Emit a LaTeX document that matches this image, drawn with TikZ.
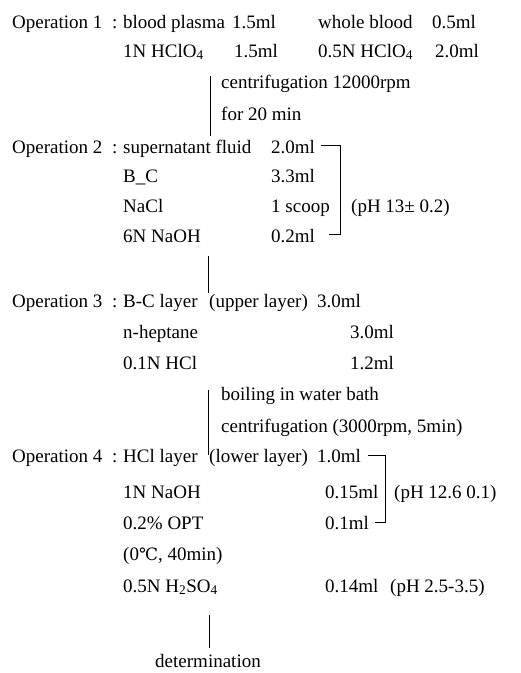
\documentclass[tikz,border=0pt]{standalone}
\usepackage{fontspec}
\setmainfont{Liberation Serif}
\newfontfamily\symfont{DejaVu Serif}
\begin{document}
\begin{tikzpicture}[x=1pt,y=-1pt,
  txt/.style={anchor=base west,inner sep=0pt,font=\fontsize{19}{22}\selectfont},
  ctxt/.style={anchor=base,inner sep=0pt,font=\fontsize{19}{22}\selectfont},
  rule/.style={line width=0.8pt,black}]
\useasboundingbox (0,0) rectangle (521,673);
% rows (baselines)
\def\ra{28}\def\rb{57}\def\rc{88}\def\rd{120}\def\re{153}
\def\rf{182}\def\rg{212}\def\rh{242}
\def\ri{307}\def\rj{338}\def\rk{369}\def\rl{400}\def\rm{432}
\def\rn{462}\def\ro{498}\def\rp{529}\def\rq{560}\def\rr{592}\def\rs{667}
% Operation 1
\node[txt] (op1) at (12,\ra) {Operation 1};
\node[txt] (c1) at (112,\ra) {:};
\node[txt] (bp) at (123,\ra) {blood plasma};
\node[txt] (bpv) at (232,\ra) {1.5ml};
\node[txt] (wb) at (318,\ra) {whole blood};
\node[txt] (wbv) at (432,\ra) {0.5ml};
\node[txt] (hc1) at (123,\rb) {1N HClO\textsubscript{4}};
\node[txt] (hc1v) at (234,\rb) {1.5ml};
\node[txt] (hc2) at (318,\rb) {0.5N HClO\textsubscript{4}};
\node[txt] (hc2v) at (435,\rb) {2.0ml};
\node[txt] (cf1) at (221,\rc) {centrifugation 12000rpm};
\node[txt] (cf2) at (221,\rd) {for 20 min};
\coordinate (l1a) at (210,76);
\coordinate (l1b) at (210,136);
\draw[rule] (l1a) -- (l1b);
% Operation 2
\node[txt] (op2) at (12,\re) {Operation 2};
\node[txt] (c2) at (112,\re) {:};
\node[txt] (sf) at (123,\re) {supernatant fluid};
\node[txt] (sfv) at (271,\re) {2.0ml};
\node[txt] (bc) at (123,\rf) {B\_C};
\node[txt] (bcv) at (271,\rf) {3.3ml};
\node[txt] (nacl) at (123,\rg) {NaCl};
\node[txt] (naclv) at (271,\rg) {1 scoop};
\node[txt] (naoh) at (123,\rh) {6N NaOH};
\node[txt] (naohv) at (271,\rh) {0.2ml};
\node[txt] (ph1) at (351,\rg) {(pH 13± 0.2)};
\coordinate (b1a) at (321,\re-8);
\coordinate (b1b) at (340,\re-8);
\coordinate (b1c) at (340,\rh-8);
\coordinate (b1d) at (329,\rh-8);
\draw[rule] (b1a) -- (b1b) -- (b1c) -- (b1d);
\coordinate (l2a) at (208,256);
\coordinate (l2b) at (208,293);
\draw[rule] (l2a) -- (l2b);
% Operation 3
\node[txt] (op3) at (12,\ri) {Operation 3};
\node[txt] (c3) at (112,\ri) {:};
\node[txt] (bcl) at (123,\ri) {B-C layer};
\node[txt] (ul) at (209,\ri) {(upper layer)};
\node[txt] (bclv) at (317,\ri) {3.0ml};
\node[txt] (hep) at (123,\rj) {n-heptane};
\node[txt] (hepv) at (350,\rj) {3.0ml};
\node[txt] (hcl) at (123,\rk) {0.1N HCl};
\node[txt] (hclv) at (350,\rk) {1.2ml};
\node[txt] (boil) at (221,\rl) {boiling in water bath};
\node[txt] (cf3) at (221,\rm) {centrifugation (3000rpm, 5min)};
\coordinate (l3a) at (208,390);
\coordinate (l3b) at (208,455);
\draw[rule] (l3a) -- (l3b);
% Operation 4
\node[txt] (op4) at (12,\rn) {Operation 4};
\node[txt] (c4) at (112,\rn) {:};
\node[txt] (hl) at (123,\rn) {HCl layer};
\node[txt] (ll) at (209,\rn) {(lower layer)};
\node[txt] (hlv) at (317,\rn) {1.0ml};
\node[txt] (nh) at (123,\ro) {1N NaOH};
\node[txt] (nhv) at (325,\ro) {0.15ml};
\node[txt] (opt) at (123,\rp) {0.2\% OPT};
\node[txt] (optv) at (325,\rp) {0.1ml};
\node[txt] (ph2) at (394,\ro) {(pH 12.6 0.1)};
\coordinate (b2a) at (368,\rn-7);
\coordinate (b2b) at (385,\rn-7);
\coordinate (b2c) at (385,\rp-7);
\coordinate (b2d) at (375,\rp-7);
\draw[rule] (b2a) -- (b2b) -- (b2c) -- (b2d);
\node[txt] (temp) at (123,\rq) {(0{\symfont\fontsize{17}{18}\selectfont ℃}, 40min)};
\node[txt] (hs) at (123,\rr) {0.5N H\textsubscript{2}SO\textsubscript{4}};
\node[txt] (hsv) at (325,\rr) {0.14ml};
\node[txt] (ph3) at (390,\rr) {(pH 2.5-3.5)};
\coordinate (l4a) at (209,615);
\coordinate (l4b) at (209,648);
\draw[rule] (l4a) -- (l4b);
\node[ctxt] (det) at (208,\rs) {determination};
\end{tikzpicture}
\end{document}
